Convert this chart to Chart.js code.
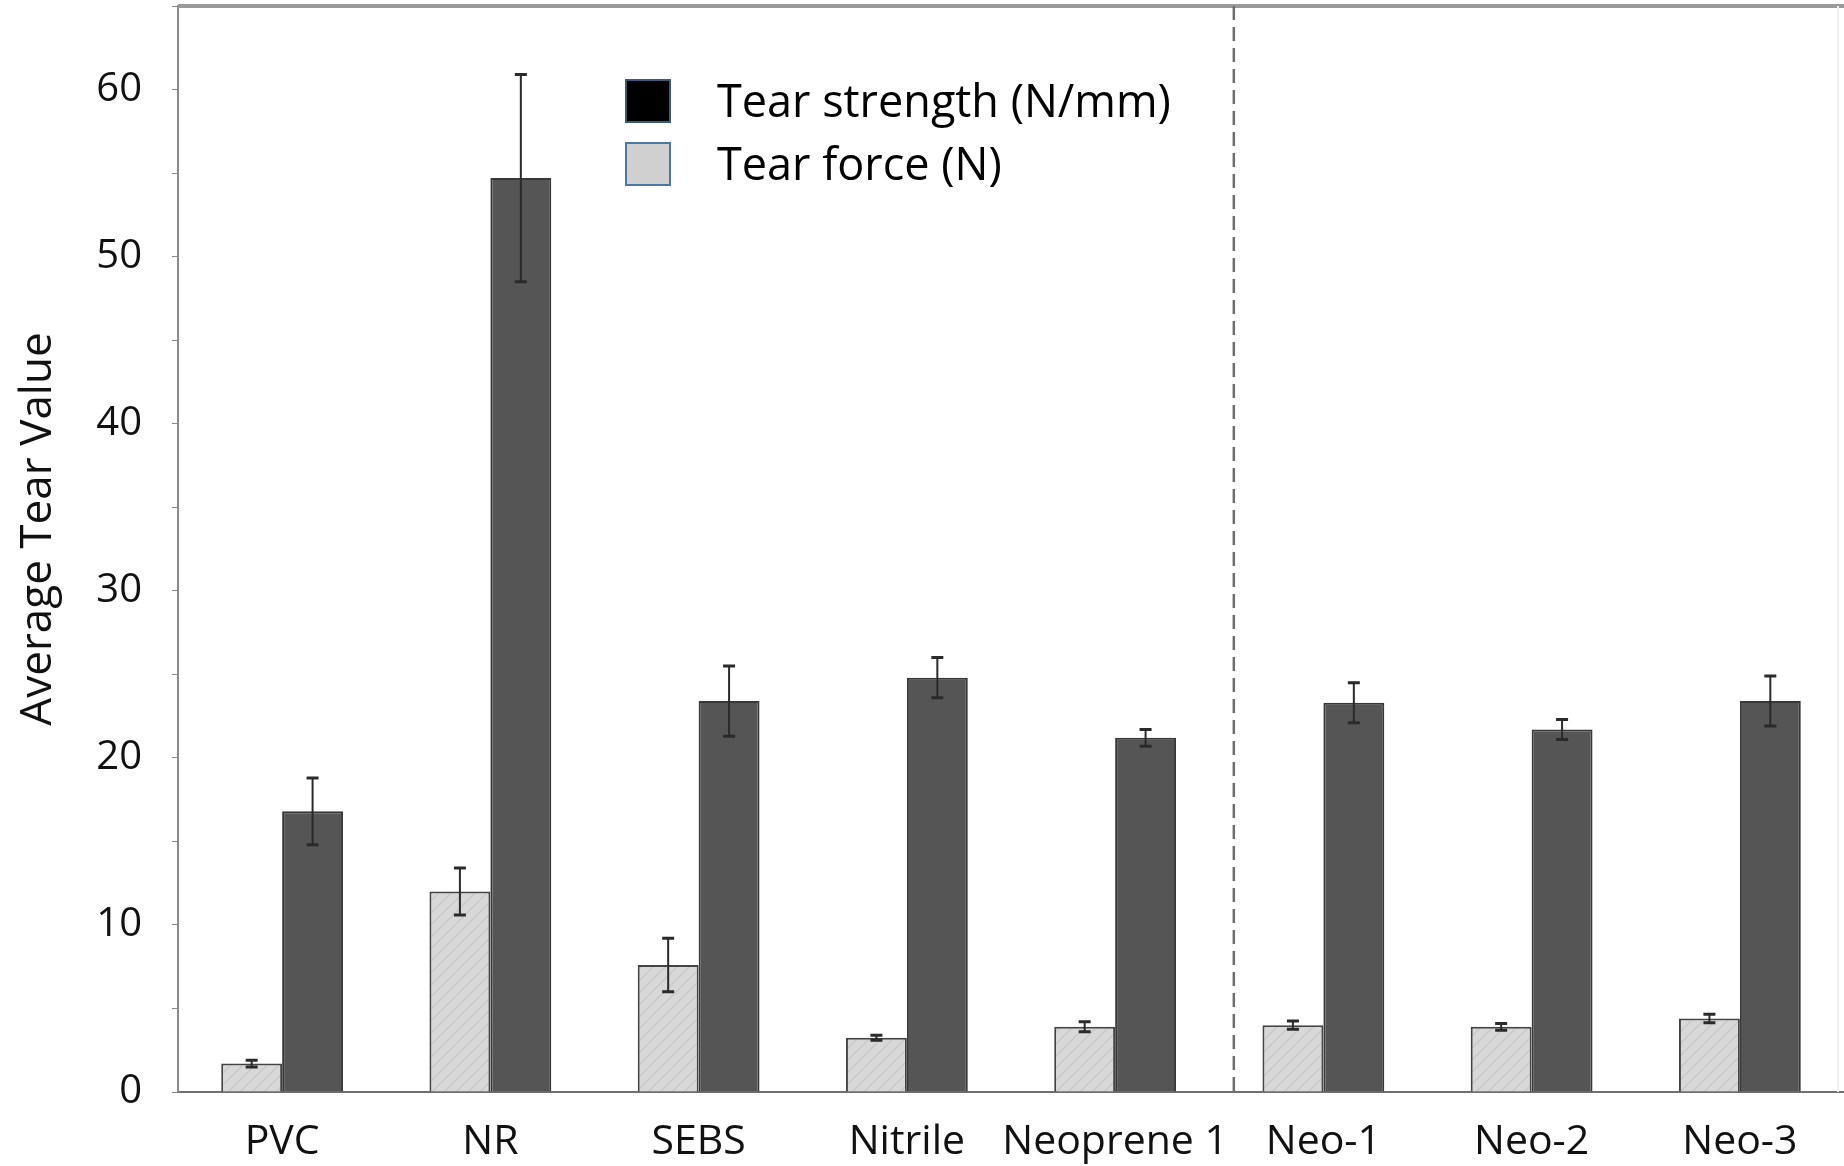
<!DOCTYPE html>
<html>
<head>
<meta charset="utf-8">
<script src="https://cdn.jsdelivr.net/npm/chart.js@4.4.1/dist/chart.umd.min.js"></script>
<style>
  html, body { margin: 0; padding: 0; background: #fff; }
  #wrap { width: 1844px; height: 1166px; }
</style>
</head>
<body>
<div id="wrap"><canvas id="tearChart"></canvas></div>
<script>
const materials = ["PVC", "NR", "SEBS", "Nitrile", "Neoprene 1", "Neo-1", "Neo-2", "Neo-3"]
const tearForce = [1.7, 12.0, 7.6, 3.25, 3.9, 4.0, 3.9, 4.4]
const tearForceErr = [0.2, 1.4, 1.6, 0.15, 0.3, 0.25, 0.2, 0.25]
const tearStrength = [16.8, 54.7, 23.4, 24.8, 21.2, 23.3, 21.7, 23.4]
const tearStrengthErr = [2.0, 6.2, 2.1, 1.2, 0.5, 1.2, 0.6, 1.5]

const FONT = "'Open Sans', 'Noto Sans', sans-serif"

const canvas = document.getElementById("tearChart")
const ctx = canvas.getContext("2d")

// light grey with faint diagonal hatch, like the scanned bars
function hatchPattern() {
  const c = document.createElement("canvas")
  c.width = 12
  c.height = 12
  const g = c.getContext("2d")
  g.fillStyle = "#d8d8d8"
  g.fillRect(0, 0, 12, 12)
  g.strokeStyle = "#c8c8c8"
  g.lineWidth = 1.5
  g.beginPath()
  g.moveTo(0, 12); g.lineTo(12, 0)
  g.moveTo(-6, 6); g.lineTo(6, -6)
  g.moveTo(6, 18); g.lineTo(18, 6)
  g.stroke()
  return ctx.createPattern(c, "repeat")
}

//error bars drawn on top of the bars
const errorBars = {
  id: "errorBars",
  afterDatasetsDraw(chart) {
    const c = chart.ctx
    const y = chart.scales.y
    const errs = [tearForceErr, tearStrengthErr]
    chart.data.datasets.forEach((ds, di) => {
      chart.getDatasetMeta(di).data.forEach((bar, i) => {
        const v = ds.data[i]
        const e = errs[di][i]
        const top = y.getPixelForValue(v + e)
        const bot = y.getPixelForValue(v - e)
        c.save()
        c.strokeStyle = "#2a2a2a"
        c.lineWidth = 2
        c.beginPath()
        c.moveTo(bar.x, top); c.lineTo(bar.x, bot)
        c.stroke()
        c.lineWidth = 3
        c.beginPath()
        c.moveTo(bar.x - 6, top); c.lineTo(bar.x + 6, top)
        c.moveTo(bar.x - 6, bot); c.lineTo(bar.x + 6, bot)
        c.stroke()
        c.restore()
      })
    })
  },
}

//frame lines, dashed divider, axis title and the in-plot legend
const frame = {
  id: "frame",
  afterDraw(chart) {
    const c = chart.ctx
    const a = chart.chartArea
    const x = chart.scales.x
    c.save()
    c.strokeStyle = "#9a9a9a"
    c.lineWidth = 4
    c.beginPath()
    c.moveTo(a.left, a.top); c.lineTo(chart.width, a.top)
    c.stroke()
    c.strokeStyle = "#f0f0f0"
    c.lineWidth = 2
    c.beginPath()
    c.moveTo(chart.width - 6, a.top); c.lineTo(chart.width - 6, a.bottom)
    c.stroke()

    // divider between Neoprene 1 and the Neo samples
    const dx = x.getPixelForValue(4) + (x.getPixelForValue(5) - x.getPixelForValue(4)) * 0.57
    c.strokeStyle = "#6e6e6e"
    c.lineWidth = 2.5
    c.setLineDash([14, 7])
    c.beginPath()
    c.moveTo(dx, a.top); c.lineTo(dx, a.bottom)
    c.stroke()
    c.setLineDash([])

    // y axis title
    c.save()
    c.translate(38, 529)
    c.rotate(-Math.PI / 2)
    c.font = "44px " + FONT
    c.textAlign = "center"
    c.textBaseline = "middle"
    c.fillStyle = "#111"
    c.fillText("Average Tear Value", 0, 0)
    c.restore()

    // legend
    const items = [
      { text: "Tear strength (N/mm)", fill: "#000000", border: "#3b5a7a", y: 80 },
      { text: "Tear force (N)", fill: "#d0d0d0", border: "#4a79a8", y: 143 },
    ]
    c.font = "45px " + FONT
    c.textBaseline = "middle"
    items.forEach((it) => {
      c.fillStyle = it.fill
      c.fillRect(626, it.y, 44, 42)
      c.strokeStyle = it.border
      c.lineWidth = 2
      c.strokeRect(626, it.y, 44, 42)
      c.fillStyle = "#000"
      c.fillText(it.text, 717, it.y + 24)
    })
    c.restore()
  },
}

const data = {
  labels: materials,
  datasets: [
    {
      label: "Tear force (N)",
      data: tearForce,
      backgroundColor: hatchPattern(),
      borderColor: "#444444",
      borderWidth: 2,
    },
    {
      label: "Tear strength (N/mm)",
      data: tearStrength,
      backgroundColor: "#555555",
      borderColor: "#383838",
      borderWidth: 2,
    },
  ],
}

const config = {
  type: "bar",
  data: data,
  plugins: [errorBars, frame],
  options: {
    responsive: true,
    maintainAspectRatio: false,
    animation: false,
    layout: { padding: { top: 6, right: 0, left: 0, bottom: 0 } },
    plugins: {
      legend: { display: false },
      tooltip: { enabled: false },
    },
    datasets: {
      bar: { categoryPercentage: 0.585, barPercentage: 1.0 },
    },
    scales: {
      x: {
        grid: { display: false },
        border: { color: "#707070", width: 2 },
        ticks: {
          color: "#111",
          font: { family: FONT, size: 41 },
          padding: 18,
          maxRotation: 0,
          autoSkip: false,
        },
        afterFit(scale) {
          scale.height = 74
          scale.paddingLeft = 0
          scale.paddingRight = 0
        },
      },
      y: {
        min: 0,
        max: 65,
        grid: {
          drawOnChartArea: false,
          color: "#8a8a8a",
          tickLength: 6,
        },
        border: { color: "#8a8a8a", width: 2 },
        ticks: {
          stepSize: 5,
          color: "#111",
          font: { family: FONT, size: 40 },
          padding: 30,
          callback: (v) => (v % 10 === 0 ? v : ""),
        },
        afterFit(scale) {
          scale.width = 178
          scale.paddingTop = 0
          scale.paddingBottom = 0
        },
      },
    },
  },
}

new Chart(canvas, config)
</script>
</body>
</html>
